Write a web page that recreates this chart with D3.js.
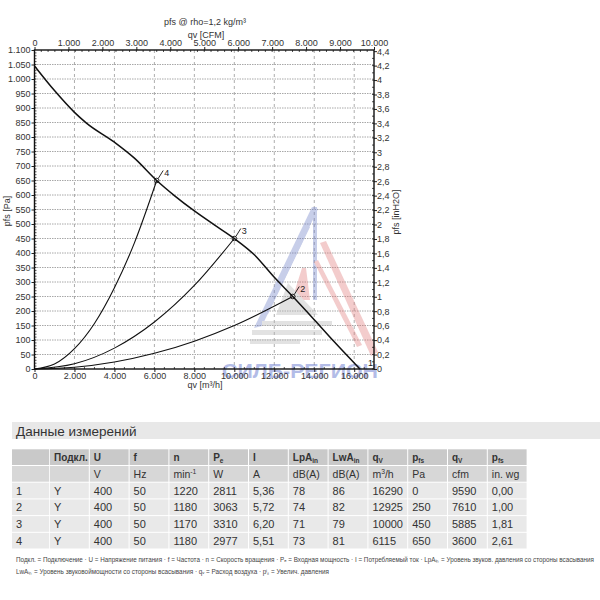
<!DOCTYPE html>
<html>
<head>
<meta charset="utf-8">
<script src="https://cdn.jsdelivr.net/npm/d3@7/dist/d3.min.js"></script>
<style>
    body { margin: 0; background: #fff; }
    svg { display: block; font-family: "Liberation Sans", Arial, sans-serif; }
</style>
</head>
<body>
<svg id="chart" width="600" height="600"></svg>
<script>
// Fan curve, pfs [Pa] over qv [m3/h]
const fanQ = [0, 1000, 2000, 2600, 4000, 5000, 6115, 7000, 8000, 9000, 10000, 11000, 12000, 12925, 14000, 15000, 16290];
const fanP = [1045, 960, 885, 848, 782, 727, 650, 598, 545, 497, 450, 394, 316, 250, 170, 94, 0];

// System curves through the operating points
const sys4Q = [0, 1000, 2000, 3000, 4000, 5000, 6115];
const sys4P = [0, 17, 70, 157, 280, 435, 650];
const sys3Q = [0, 2000, 4000, 6000, 8000, 10000];
const sys3P = [0, 18, 72, 162, 288, 450];
const sys2Q = [0, 2000, 4000, 6000, 8000, 10000, 12925];
const sys2P = [0, 6, 24, 54, 96, 150, 250];

// Operating points
const pointIds = ['1', '2', '3', '4'];
const pointQ = [16290, 12925, 10000, 6115];
const pointP = [0, 250, 450, 650];

// Ticks
const pressureTicks = d3.range(0, 1101, 50);
const flowTicks = d3.range(0, 16001, 2000);
const cfmTicks = d3.range(0, 10001, 1000);
const inchTicks = d3.range(0, 45, 2).map(v => v / 10);

// Table
const tableTitle = 'Данные измерений';
const headSymbols = [[''], ['Подкл.'], ['U'], ['f'], ['n'], ['P', 'e'], ['I'], ['LpA', 'in'], ['LwA', 'in'], ['q', 'V'], ['p', 'fs'], ['q', 'V'], ['p', 'fs']];
const headUnits = [[''], [''], ['V'], ['Hz'], ['min', '-1', 'sup'], ['W'], ['A'], ['dB(A)'], ['dB(A)'], ['m', '3', 'sup', '/h'], ['Pa'], ['cfm'], ['in. wg']];
const rowIds = ['1', '2', '3', '4'];
const rowConn = ['Y', 'Y', 'Y', 'Y'];
const rowU = ['400', '400', '400', '400'];
const rowF = ['50', '50', '50', '50'];
const rowN = ['1220', '1180', '1170', '1180'];
const rowPe = ['2811', '3063', '3310', '2977'];
const rowI = ['5,36', '5,72', '6,20', '5,51'];
const rowLpA = ['78', '74', '71', '73'];
const rowLwA = ['86', '82', '79', '81'];
const rowQm3 = ['16290', '12925', '10000', '6115'];
const rowPfsPa = ['0', '250', '450', '650'];
const rowQcfm = ['9590', '7610', '5885', '3600'];
const rowPfsIn = ['0,00', '1,00', '1,81', '2,61'];
const footLine1 = 'Подкл. = Подключение · U = Напряжение питания · f = Частота · n = Скорость вращения · P\u2091 = Входная мощность · I = Потребляемый ток · LpA\u1d62\u2099 = Уровень звуков. давления со стороны всасывания';
const footLine2 = 'LwA\u1d62\u2099 = Уровень звуковоймощности со стороны всасывания · q\u1d65 = Расход воздуха · p\u2071\u209b = Увелич. давления';

const svg = d3.select('#chart');
const plotLeft = 34.5, plotRight = 374, plotTop = 50, plotBottom = 369;

const x = d3.scaleLinear().domain([0, 16990]).range([plotLeft, plotRight]);
const y = d3.scaleLinear().domain([0, 1100]).range([plotBottom, plotTop]);
const xCfm = d3.scaleLinear().domain([0, 10000]).range([plotLeft, plotRight]);
const yIn = d3.scaleLinear().domain([0, 1100 / 249.089]).range([plotBottom, plotTop]);

const loc = d3.formatLocale({ decimal: ',', thousands: '.', grouping: [3], currency: ['', ''] });
const fmtThousands = loc.format(',d');
const fmtInch = loc.format('.1~f');

const textColor = '#333';

// Grid

const grid = svg.append('g');
grid.selectAll('line.h')
    .data(pressureTicks.filter(d => d > 0 && d < 1100))
    .enter()
    .append('line')
    .attr('x1', plotLeft).attr('x2', plotRight)
    .attr('y1', d => y(d)).attr('y2', d => y(d))
    .attr('stroke', '#a8a8a8')
    .attr('stroke-dasharray', '1.5,1')
    .attr('stroke-width', 1);
grid.selectAll('line.v')
    .data(flowTicks.filter(d => d > 0))
    .enter()
    .append('line')
    .attr('x1', d => x(d)).attr('x2', d => x(d))
    .attr('y1', plotTop).attr('y2', plotBottom)
    .attr('stroke', '#999')
    .attr('stroke-dasharray', '3,3')
    .attr('stroke-width', 0.8);

// Watermark

const wm = svg.append('g').attr('opacity', 0.38);
const blueBands = [
    [[312, 207], [318, 209], [262, 326], [254, 328]],
    [[306, 226], [310, 227], [268, 314], [263, 315]],
    [[300, 240], [303, 241], [272, 304], [268, 305]],
    [[313, 207], [317, 207], [317, 300], [313, 300]],
];
const redBands = [
    [[320, 243], [326, 241], [378, 352], [371, 356]],
    [[314, 262], [318, 260], [362, 345], [357, 347]],
    [[302, 268], [306, 268], [310, 300], [292, 300]],
];
const grayBands = [
    [[262, 321], [332, 321], [332, 326], [262, 326]],
    [[252, 330], [322, 330], [322, 335], [252, 335]],
    [[250, 339], [300, 339], [300, 344], [250, 344]],
    [[288, 283], [318, 315], [276, 315]],
];
wm.selectAll('polygon.b').data(blueBands).enter().append('polygon')
    .attr('points', d => d.join(' ')).attr('fill', '#6f7fc8');
wm.selectAll('polygon.r').data(redBands).enter().append('polygon')
    .attr('points', d => d.join(' ')).attr('fill', '#e07a7a');
wm.selectAll('polygon.g').data(grayBands).enter().append('polygon')
    .attr('points', d => d.join(' ')).attr('fill', '#b5b5b5');
svg.append('text')
    .attr('x', 222).attr('y', 378)
    .attr('textLength', 156)
    .attr('lengthAdjust', 'spacingAndGlyphs')
    .attr('font-size', 21).attr('font-weight', 'bold')
    .attr('fill', '#6a7cd0').attr('opacity', 0.5)
    .text('СИЛБ-РЕГИОН');

// Axes

const styleAxis = (g) => {
    g.select('.domain').remove();
    g.selectAll('line').attr('stroke', '#222');
    g.selectAll('text').attr('fill', textColor).attr('font-size', 9);
};

svg.append('g')
    .attr('transform', `translate(${plotLeft},0)`)
    .call(d3.axisLeft(y).tickValues(pressureTicks).tickSize(3).tickPadding(1)
        .tickFormat(d => fmtThousands(d)))
    .call(styleAxis);
svg.append('g')
    .attr('transform', `translate(0,${plotBottom})`)
    .call(d3.axisBottom(x).tickValues(flowTicks).tickSize(3).tickPadding(1)
        .tickFormat(d => fmtThousands(d)))
    .call(styleAxis);
svg.append('g')
    .attr('transform', `translate(0,${plotTop})`)
    .call(d3.axisTop(xCfm).tickValues(cfmTicks).tickSize(3).tickPadding(1)
        .tickFormat(d => fmtThousands(d)))
    .call(styleAxis);
svg.append('g')
    .attr('transform', `translate(${plotRight},0)`)
    .call(d3.axisRight(yIn).tickValues(inchTicks).tickSize(3).tickPadding(0)
        .tickFormat(d => fmtInch(d)))
    .call(styleAxis);

// minor ticks
const minor = svg.append('g').attr('stroke', '#222').attr('stroke-width', 0.8);
minor.selectAll('line.ml').data(d3.range(0, 1100, 10)).enter().append('line')
    .attr('x1', plotLeft).attr('x2', plotLeft + 2).attr('y1', d => y(d)).attr('y2', d => y(d));
minor.selectAll('line.mb').data(d3.range(0, 16990, 500)).enter().append('line')
    .attr('x1', d => x(d)).attr('x2', d => x(d)).attr('y1', plotBottom).attr('y2', plotBottom - 2);
minor.selectAll('line.mt').data(d3.range(0, 10000, 200)).enter().append('line')
    .attr('x1', d => xCfm(d)).attr('x2', d => xCfm(d)).attr('y1', plotTop).attr('y2', plotTop + 2);
minor.selectAll('line.mr').data(d3.range(0, 44, 1).map(v => v / 10)).enter().append('line')
    .attr('x1', plotRight).attr('x2', plotRight - 2).attr('y1', d => yIn(d)).attr('y2', d => yIn(d));

svg.append('rect')
    .attr('x', plotLeft).attr('y', plotTop)
    .attr('width', plotRight - plotLeft).attr('height', plotBottom - plotTop)
    .attr('fill', 'none').attr('stroke', '#111').attr('stroke-width', 1.4);

// Axis titles

svg.append('text').attr('x', 205).attr('y', 25).attr('text-anchor', 'middle')
    .attr('font-size', 9).attr('fill', textColor).text('pfs @ rho=1,2 kg/m³');
svg.append('text').attr('x', 206).attr('y', 38).attr('text-anchor', 'middle')
    .attr('font-size', 9).attr('fill', textColor).text('qv [CFM]');
svg.append('text').attr('x', 205).attr('y', 388).attr('text-anchor', 'middle')
    .attr('font-size', 9).attr('fill', textColor).text('qv [m³/h]');
svg.append('text').attr('transform', 'translate(10,211) rotate(-90)').attr('text-anchor', 'middle')
    .attr('font-size', 9).attr('fill', textColor).text('pfs [Pa]');
svg.append('text').attr('transform', 'translate(399,212) rotate(-90)').attr('text-anchor', 'middle')
    .attr('font-size', 9).attr('fill', textColor).text('pfs [inH2O]');

// Curves

const line = d3.line().x(d => x(d[0])).y(d => y(d[1])).curve(d3.curveMonotoneX);
const curves = [
    { q: sys4Q, p: sys4P, w: 1.1 },
    { q: sys3Q, p: sys3P, w: 1.1 },
    { q: sys2Q, p: sys2P, w: 1.1 },
    { q: fanQ, p: fanP, w: 1.5 },
];
svg.append('g')
    .selectAll('path')
    .data(curves)
    .enter()
    .append('path')
    .attr('d', d => line(d.q.map((q, i) => [q, d.p[i]])))
    .attr('fill', 'none')
    .attr('stroke', '#111')
    .attr('stroke-width', d => d.w);

// Operating points

const pts = svg.append('g')
    .selectAll('g')
    .data(pointIds.map((id, i) => ({ id, q: pointQ[i], p: pointP[i] })))
    .enter()
    .append('g')
    .attr('transform', d => `translate(${x(d.q)},${y(d.p)})`);
pts.filter(d => d.id !== '1').append('circle')
    .attr('r', 2.3).attr('fill', 'none').attr('stroke', '#111').attr('stroke-width', 0.9);
pts.filter(d => d.id !== '1').append('line')
    .attr('x1', 1.5).attr('y1', -2).attr('x2', 6.5).attr('y2', -10)
    .attr('stroke', '#111').attr('stroke-width', 0.9);
pts.append('text')
    .attr('x', d => (d.id === '1' ? 8 : 7.5))
    .attr('y', d => (d.id === '1' ? -3 : -5))
    .attr('font-size', 9).attr('fill', '#222')
    .text(d => d.id);

// Table

const tbl = svg.append('g');
tbl.append('rect').attr('x', 12).attr('y', 422).attr('width', 588).attr('height', 17).attr('fill', '#e8e8e8');
tbl.append('text').attr('x', 16).attr('y', 436).attr('font-size', 13.5).attr('fill', textColor).text(tableTitle);

const colX = d3.range(13).map(i => (i === 0 ? 12 : 50 + (i - 1) * 39.8));
const colW = d3.range(13).map(i => (i === 0 ? 37.2 : 38.8));
const rowY = d3.range(6).map(i => 449.3 + i * 16.7);
const rowH = 15.7;
const dataRows = rowIds.map((id, i) => [id, rowConn[i], rowU[i], rowF[i], rowN[i], rowPe[i], rowI[i], rowLpA[i], rowLwA[i], rowQm3[i], rowPfsPa[i], rowQcfm[i], rowPfsIn[i]]);
const rowFill = ['#c9c9c9', '#d7d7d7', '#e9e9e9', '#e9e9e9', '#e9e9e9', '#e9e9e9'];
const tableFont = '"Liberation Sans Narrow", "Arial Narrow", "Liberation Sans", Arial, sans-serif';

rowY.forEach((ry, r) => {
    colX.forEach((cx, c) => {
        tbl.append('rect').attr('x', cx).attr('y', ry).attr('width', colW[c]).attr('height', rowH)
            .attr('fill', rowFill[r]);
    });
});

const putCell = (parts, cx, baseY, size, weight) => {
    const t = tbl.append('text').attr('x', cx + 4).attr('y', baseY)
        .attr('font-size', size).attr('font-weight', weight)
        .attr('font-family', tableFont).attr('fill', textColor);
    t.append('tspan').text(parts[0]);
    if (parts.length > 1) {
        const sup = parts[2] === 'sup';
        t.append('tspan').attr('font-size', size * 0.65)
            .attr('dy', sup ? -4 : 2).text(parts[1]);
        if (parts.length > 3) t.append('tspan').attr('dy', 4).text(parts[3]);
    }
};
headSymbols.forEach((h, c) => putCell(h, colX[c], rowY[0] + 11.5, 10, 'bold'));
headUnits.forEach((h, c) => putCell(h, colX[c], rowY[1] + 11.5, 10.5, 'normal'));
dataRows.forEach((row, r) => {
    row.forEach((v, c) => putCell([v], colX[c], rowY[r + 2] + 12, 11, 'normal'));
});

tbl.append('text').attr('x', 16).attr('y', 562).attr('font-size', 6.5)
    .attr('font-family', tableFont).attr('fill', '#444')
    .attr('textLength', 578).attr('lengthAdjust', 'spacingAndGlyphs').text(footLine1);
tbl.append('text').attr('x', 16).attr('y', 574).attr('font-size', 6.5)
    .attr('font-family', tableFont).attr('fill', '#444')
    .attr('textLength', 313).attr('lengthAdjust', 'spacingAndGlyphs').text(footLine2);
</script>
</body>
</html>
